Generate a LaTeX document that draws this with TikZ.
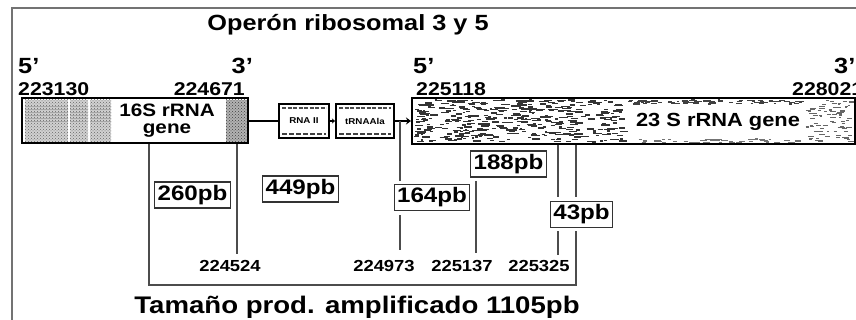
\documentclass[tikz,border=0pt]{standalone}
\usepackage{fontspec}
\setmainfont{Liberation Sans}[FakeStretch=1.15]
\usetikzlibrary{patterns,arrows.meta}
\begin{document}
\begin{tikzpicture}[x=1pt,y=-1pt,
  frameline/.style={line width=1.6pt, draw=black!55},
  genebox/.style={draw=black, line width=2pt, inner sep=0pt},
  trnabox/.style={draw=black, line width=2pt, inner sep=0pt, minimum height=34pt},
  pbbox/.style={draw=black!80, line width=1.1pt, fill=white, inner xsep=3pt, inner ysep=0pt,
     minimum height=26pt, font=\bfseries\fontsize{21}{21}\selectfont},
  vline/.style={line width=1.3pt, draw=black!70},
  link/.style={line width=2.4pt},
  titlefont/.style={font=\bfseries\fontsize{22}{22}\selectfont},
  primefont/.style={font=\bfseries\fontsize{22}{22}\selectfont},
  coordfont/.style={font=\bfseries\fontsize{18.5}{18.5}\selectfont},
  genefont/.style={font=\bfseries\fontsize{19}{19}\selectfont},
  posfont/.style={font=\bfseries\fontsize{16}{16}\selectfont},
  tinyfont/.style={font=\bfseries\fontsize{8.5}{8.5}\selectfont, inner sep=0pt}]
\useasboundingbox (0,0) rectangle (856,320);
\fill[white] (0,0) rectangle (856,320);
% frame
\draw[frameline] (12,322) -- (12,8) -- (858,8);
% title
\node[titlefont, anchor=base] (title) at (348,31) {Operón ribosomal 3 y 5};
% ends
\node[primefont, anchor=base west, inner sep=0pt] (p5a) at (18,74) {5'};
\node[primefont, anchor=base east, inner sep=0pt] (p3a) at (253,74) {3'};
\node[primefont, anchor=base west, inner sep=0pt] (p5b) at (413,74) {5'};
\node[primefont, anchor=base west, inner sep=0pt] (p3b) at (834,74) {3'};
\node[coordfont, anchor=base west, inner sep=0pt] (n223130) at (18,96) {223130};
\node[coordfont, anchor=base east, inner sep=0pt] (n224671) at (245,96) {224671};
\node[coordfont, anchor=base west, inner sep=0pt] (n225118) at (416,96) {225118};
\node[coordfont, anchor=base west, inner sep=0pt] (n228021) at (792,96) {228021};
% 16S textures
\foreach \xa/\xb in {25/68, 70/88, 90/111} {
  \fill[black!18] (\xa,100) rectangle (\xb,142);
  \fill[pattern=crosshatch dots, pattern color=black!60] (\xa,100) rectangle (\xb,142);
  \fill[pattern=horizontal lines, pattern color=black!35] (\xa,104) rectangle (\xb,122);
}
\fill[black!30] (226,100) rectangle (247,142);
\fill[pattern=crosshatch dots, pattern color=black!75] (226,100) rectangle (247,142);
% 23S textures
\pgfmathsetseed{11}
\foreach \i in {1,...,420} {
  \pgfmathsetmacro{\xa}{414+rnd*208}
  \pgfmathsetmacro{\ya}{100+rnd*42}
  \pgfmathsetmacro{\la}{2+rnd*7}
  \draw[line width=1.4pt, black!80] (\xa,\ya) -- ++(\la,0);
}
\foreach \i in {1,...,80} {
  \pgfmathsetmacro{\xa}{624+rnd*175}
  \pgfmathsetmacro{\ya}{100+rnd*4}
  \pgfmathsetmacro{\la}{2+rnd*5}
  \draw[line width=1.2pt, black!75] (\xa,\ya) -- ++(\la,0);
}
\foreach \i in {1,...,50} {
  \pgfmathsetmacro{\xa}{624+rnd*175}
  \pgfmathsetmacro{\ya}{139+rnd*4}
  \pgfmathsetmacro{\la}{2+rnd*5}
  \draw[line width=1.2pt, black!55] (\xa,\ya) -- ++(\la,0);
}
\foreach \i in {1,...,90} {
  \pgfmathsetmacro{\xa}{803+rnd*46}
  \pgfmathsetmacro{\ya}{100+rnd*42}
  \pgfmathsetmacro{\la}{2+rnd*4}
  \draw[line width=1.1pt, black!60] (\xa,\ya) -- ++(\la,0);
}
% gene boxes
\node[genebox, minimum width=226pt, minimum height=45pt] (g16) at (135,121) {};
\node[align=center, inner sep=0pt, font=\bfseries\fontsize{18}{17}\selectfont] (l16) at (167,121) {16S rRNA\\gene};
\node[genebox, minimum width=443pt, minimum height=46pt] (g23) at (633.5,121) {};
\node[genefont, anchor=base, inner sep=1pt, fill=white] (l23) at (718,127) {23 S rRNA gene};
% tRNA boxes
\node[trnabox, minimum width=50pt] (t1) at (304,121) {};
\node[trnabox, minimum width=58pt] (t2) at (365,121) {};
\foreach \xa/\xb in {282/326, 339/391} {
  \draw[black!70, line width=1.6pt, dash pattern=on 4pt off 1.5pt] (\xa,108) -- (\xb,108);
  \draw[black!75, line width=1.8pt, dash pattern=on 5pt off 2pt] (\xa,134) -- (\xb,134);
}
\node[tinyfont] (t1lab) at (t1.center) {RNA II};
\node[tinyfont] (t2lab) at (t2.center) {tRNAAla};
% connectors
\draw[link] (g16.east) -- (t1.west);
\draw[link, -{Stealth[length=3pt,width=5pt]}] (t1.east) -- (t2.west);
\draw[link, -{Stealth[length=5pt,width=7pt]}] (t2.east) -- (g23.west);
% size boxes
\node[pbbox] (p260) at (192.5,195) {260pb};
\node[pbbox] (p449) at (300.5,189) {449pb};
\node[pbbox] (p164) at (432,197.5) {164pb};
\node[pbbox] (p188) at (508.5,164) {188pb};
\node[pbbox] (p43) at (581.5,214.5) {43pb};
% coordinates
\coordinate (c1) at (149,285);
\coordinate (c2) at (237,254);
\coordinate (c3) at (400,121);
\coordinate (c3e) at (400,250);
\coordinate (c4s) at (476,181);
\coordinate (c4e) at (476,253);
\coordinate (c5) at (558,255);
\coordinate (c6) at (576,285);
% vertical lines
\draw[vline] (g16.south -| c1) -- (c1) -- (c6) -- ([yshift=-3pt]p43.south -| c6);
\draw[vline, shorten >=4pt] (g23.south -| c6) -- (p43.north -| c6);
\draw[vline] (g16.south -| c2) -- (c2);
\draw[vline, shorten >=3pt] (c3) -- (p164.north -| c3);
\draw[vline, shorten <=4pt] (p164.south -| c3) -- (c3e);
\draw[vline] (c4s) -- (c4e);
\draw[vline, shorten >=4pt] (g23.south -| c5) -- (p43.north -| c5);
\draw[vline, shorten <=3pt] (p43.south -| c5) -- (c5);
% position labels
\node[posfont, anchor=base] (n224524) at (230,271) {224524};
\node[posfont, anchor=base] (n224973) at (384,271) {224973};
\node[posfont, anchor=base] (n225137) at (462,271) {225137};
\node[posfont, anchor=base] (n225325) at (539,271) {225325};
% bottom text
\node[font=\bfseries\fontsize{24}{24}\selectfont, anchor=base] (amp) at (357,313) {Tamaño prod. amplificado 1105pb};
\end{tikzpicture}
\end{document}
